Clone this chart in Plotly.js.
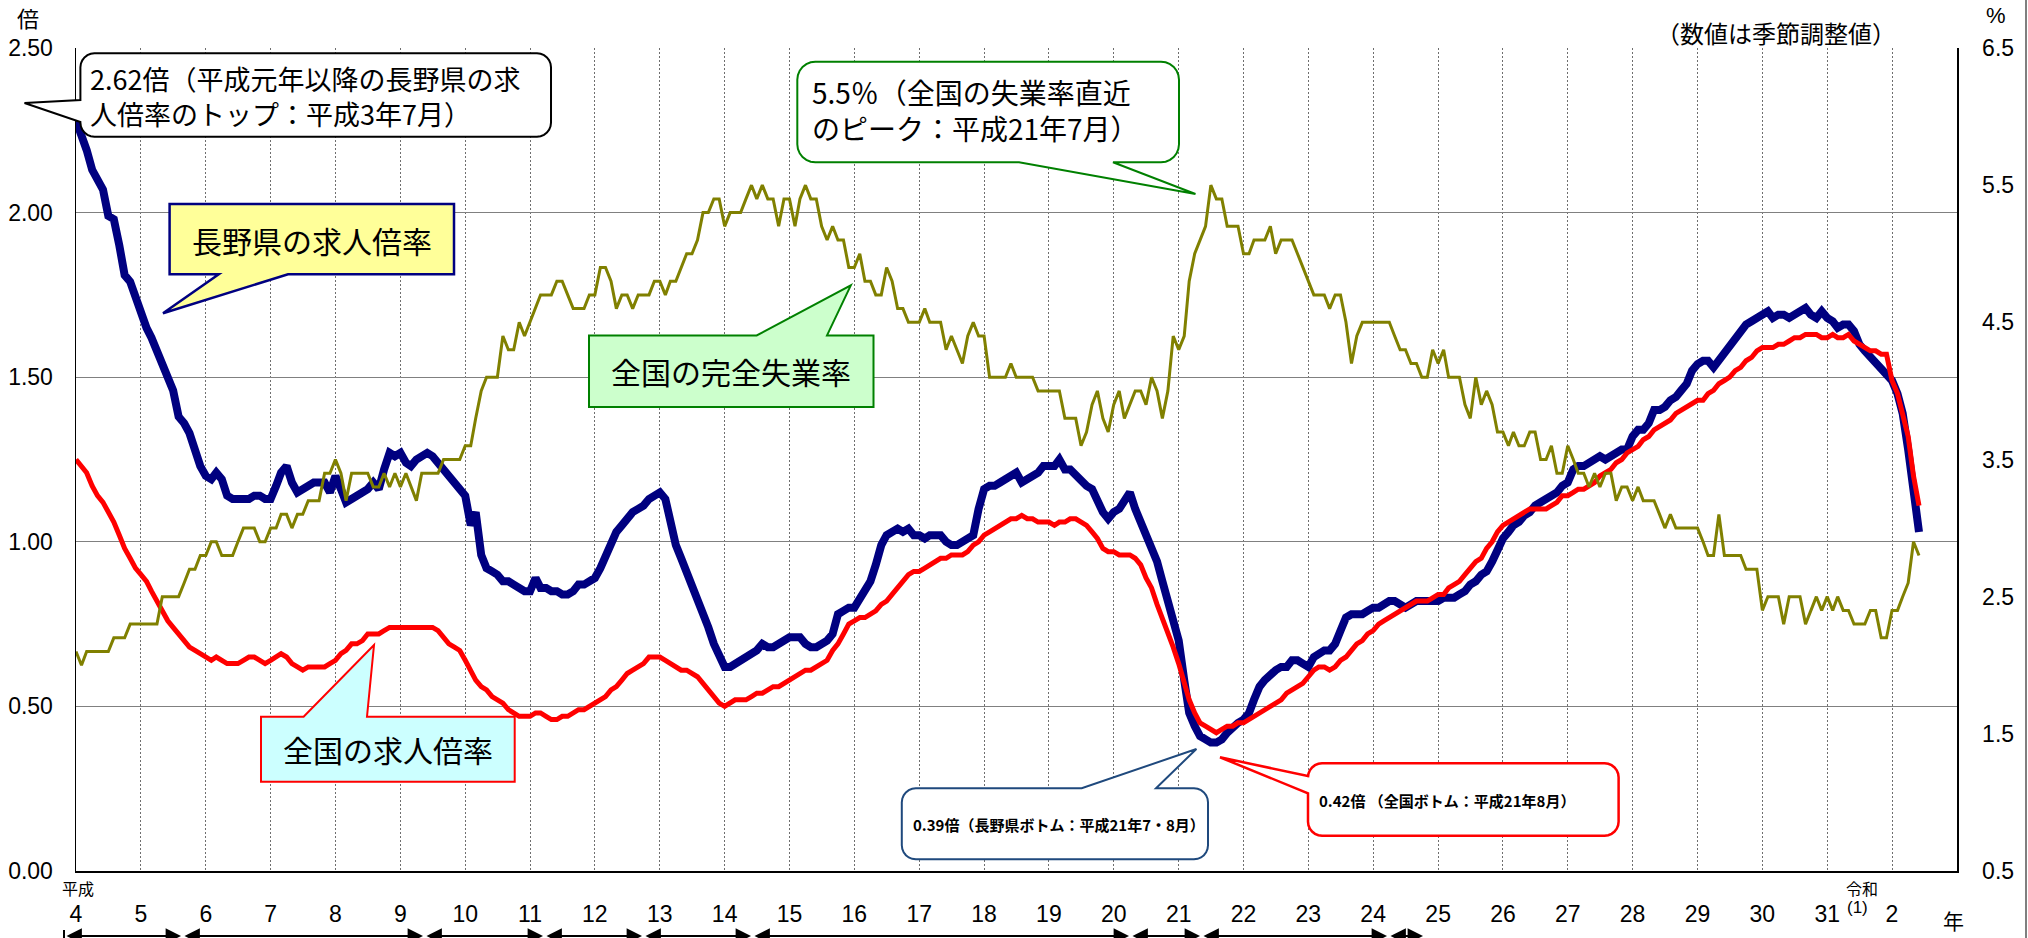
<!DOCTYPE html>
<html>
<head>
<meta charset="utf-8">
<script src="https://cdn.plot.ly/plotly-3.0.1.min.js"></script>
<style>
html,body{margin:0;padding:0;background:#fff;}
#chart{width:2028px;height:938px;}
</style>
</head>
<body>
<div id="chart"></div>
<script>
// ---- data (monthly, seasonally adjusted), Jan 1992 (H4) .. Jun 2020 (R2) ----
const firstYear = 1992;

// 長野県の有効求人倍率
const naganoRatio = [
  2.28,2.24,2.19,2.13,2.10,2.07,1.99,1.98,1.90,1.81,1.79,1.74,
  1.69,1.65,1.62,1.58,1.54,1.49,1.46,1.38,1.36,1.33,1.27,1.23,
  1.20,1.19,1.21,1.19,1.14,1.13,1.13,1.13,1.13,1.14,1.14,1.13,
  1.13,1.17,1.21,1.23,1.18,1.15,1.16,1.17,1.18,1.18,1.18,1.15,
  1.20,1.16,1.12,1.13,1.14,1.15,1.16,1.18,1.16,1.22,1.27,1.26,
  1.27,1.24,1.23,1.25,1.26,1.27,1.26,1.24,1.22,1.20,1.18,1.16,
  1.14,1.05,1.09,0.96,0.92,0.91,0.90,0.88,0.88,0.87,0.86,0.85,
  0.85,0.89,0.86,0.86,0.85,0.85,0.84,0.84,0.85,0.87,0.87,0.88,
  0.89,0.92,0.96,1.00,1.03,1.05,1.07,1.09,1.10,1.11,1.13,1.14,
  1.15,1.13,1.06,0.99,0.95,0.91,0.86,0.82,0.79,0.74,0.69,0.66,
  0.62,0.62,0.63,0.64,0.65,0.66,0.67,0.69,0.68,0.68,0.69,0.70,
  0.71,0.71,0.71,0.69,0.68,0.68,0.69,0.70,0.72,0.78,0.79,0.80,
  0.80,0.83,0.86,0.88,0.93,0.99,1.02,1.03,1.04,1.03,1.04,1.02,
  1.02,1.01,1.02,1.02,1.02,1.00,0.99,0.99,1.00,1.01,1.02,1.10,
  1.16,1.17,1.17,1.18,1.19,1.20,1.21,1.18,1.19,1.20,1.21,1.23,
  1.23,1.23,1.25,1.22,1.22,1.20,1.19,1.17,1.16,1.12,1.09,1.07,
  1.09,1.10,1.12,1.15,1.10,1.06,1.01,0.98,0.94,0.88,0.82,0.78,
  0.70,0.58,0.48,0.44,0.41,0.40,0.39,0.39,0.40,0.42,0.44,0.45,
  0.46,0.48,0.52,0.56,0.58,0.60,0.61,0.62,0.62,0.64,0.64,0.63,
  0.62,0.65,0.66,0.67,0.67,0.69,0.73,0.77,0.78,0.78,0.78,0.79,
  0.80,0.80,0.81,0.82,0.82,0.81,0.80,0.81,0.82,0.82,0.82,0.82,
  0.82,0.83,0.83,0.83,0.84,0.85,0.87,0.88,0.90,0.91,0.94,0.98,
  1.01,1.03,1.05,1.06,1.08,1.09,1.11,1.12,1.13,1.14,1.15,1.17,
  1.18,1.22,1.23,1.23,1.24,1.25,1.26,1.25,1.26,1.27,1.28,1.28,
  1.32,1.34,1.34,1.36,1.40,1.40,1.41,1.43,1.44,1.46,1.48,1.52,
  1.54,1.55,1.55,1.53,1.55,1.57,1.59,1.61,1.64,1.66,1.67,1.68,
  1.69,1.70,1.68,1.69,1.69,1.68,1.69,1.70,1.71,1.69,1.68,1.70,
  1.68,1.67,1.65,1.66,1.66,1.64,1.60,1.58,1.56,1.54,1.52,1.51,
  1.49,1.45,1.39,1.28,1.14,1.03
];

// 全国の有効求人倍率
const nationalRatio = [
  1.25,1.23,1.21,1.17,1.14,1.12,1.09,1.06,1.02,0.98,0.95,0.92,
  0.90,0.88,0.85,0.82,0.79,0.76,0.74,0.72,0.70,0.68,0.67,0.66,
  0.65,0.64,0.65,0.64,0.63,0.63,0.63,0.64,0.65,0.65,0.64,0.63,
  0.64,0.65,0.66,0.65,0.63,0.62,0.61,0.62,0.62,0.62,0.62,0.63,
  0.64,0.66,0.67,0.69,0.69,0.70,0.72,0.72,0.72,0.73,0.74,0.74,
  0.74,0.74,0.74,0.74,0.74,0.74,0.74,0.73,0.71,0.69,0.68,0.67,
  0.64,0.61,0.58,0.56,0.55,0.53,0.52,0.51,0.49,0.48,0.47,0.47,
  0.47,0.48,0.48,0.47,0.46,0.46,0.47,0.47,0.48,0.49,0.49,0.50,
  0.51,0.52,0.53,0.55,0.56,0.58,0.60,0.61,0.62,0.63,0.65,0.65,
  0.65,0.64,0.63,0.62,0.61,0.61,0.60,0.59,0.57,0.55,0.53,0.51,
  0.50,0.51,0.52,0.52,0.52,0.53,0.54,0.54,0.55,0.56,0.56,0.57,
  0.58,0.59,0.60,0.61,0.61,0.62,0.63,0.64,0.67,0.69,0.72,0.75,
  0.76,0.77,0.77,0.78,0.79,0.81,0.82,0.84,0.86,0.88,0.90,0.91,
  0.91,0.92,0.93,0.94,0.95,0.95,0.96,0.96,0.96,0.97,0.99,1.00,
  1.02,1.03,1.04,1.05,1.06,1.07,1.07,1.08,1.07,1.07,1.06,1.06,
  1.06,1.05,1.06,1.06,1.07,1.07,1.06,1.05,1.03,1.01,0.98,0.97,
  0.97,0.96,0.96,0.96,0.95,0.93,0.89,0.86,0.81,0.77,0.73,0.68,
  0.63,0.57,0.52,0.48,0.45,0.44,0.43,0.42,0.43,0.44,0.44,0.45,
  0.45,0.46,0.47,0.48,0.49,0.50,0.51,0.52,0.54,0.55,0.56,0.57,
  0.59,0.61,0.62,0.62,0.61,0.62,0.64,0.65,0.67,0.69,0.70,0.72,
  0.73,0.75,0.76,0.77,0.78,0.79,0.80,0.81,0.82,0.82,0.82,0.83,
  0.84,0.84,0.86,0.87,0.88,0.90,0.92,0.94,0.95,0.98,1.00,1.03,
  1.05,1.06,1.07,1.08,1.09,1.10,1.10,1.10,1.10,1.11,1.12,1.14,
  1.14,1.15,1.16,1.16,1.17,1.18,1.20,1.21,1.22,1.24,1.25,1.27,
  1.28,1.29,1.31,1.32,1.34,1.35,1.36,1.37,1.39,1.40,1.41,1.42,
  1.43,1.43,1.45,1.46,1.48,1.49,1.50,1.52,1.53,1.55,1.56,1.58,
  1.59,1.59,1.59,1.60,1.60,1.61,1.62,1.62,1.63,1.63,1.63,1.62,
  1.62,1.63,1.62,1.62,1.63,1.61,1.60,1.59,1.58,1.58,1.57,1.57,
  1.49,1.45,1.39,1.32,1.20,1.11
];

// 全国の完全失業率 (%)
const unemploymentRate = [
  2.1,2.0,2.1,2.1,2.1,2.1,2.1,2.2,2.2,2.2,2.3,2.3,
  2.3,2.3,2.3,2.3,2.5,2.5,2.5,2.5,2.6,2.7,2.7,2.8,
  2.8,2.9,2.9,2.8,2.8,2.8,2.9,3.0,3.0,3.0,2.9,2.9,
  3.0,3.0,3.1,3.1,3.0,3.1,3.1,3.2,3.2,3.2,3.4,3.4,
  3.5,3.4,3.2,3.4,3.4,3.4,3.4,3.3,3.3,3.4,3.3,3.4,
  3.3,3.4,3.3,3.2,3.4,3.4,3.4,3.4,3.5,3.5,3.5,3.5,
  3.6,3.6,3.8,4.0,4.1,4.1,4.1,4.4,4.3,4.3,4.5,4.4,
  4.5,4.6,4.7,4.7,4.7,4.8,4.8,4.7,4.6,4.6,4.6,4.7,
  4.7,4.9,4.9,4.8,4.6,4.7,4.7,4.6,4.7,4.7,4.7,4.8,
  4.8,4.7,4.8,4.8,4.9,5.0,5.0,5.1,5.3,5.3,5.4,5.4,
  5.2,5.3,5.3,5.3,5.4,5.5,5.4,5.5,5.4,5.4,5.2,5.4,
  5.4,5.2,5.4,5.5,5.4,5.4,5.2,5.1,5.2,5.1,5.1,4.9,
  4.9,5.0,4.8,4.8,4.7,4.7,4.9,4.8,4.6,4.6,4.5,4.5,
  4.5,4.6,4.5,4.5,4.5,4.3,4.4,4.3,4.2,4.4,4.5,4.4,
  4.4,4.1,4.1,4.1,4.1,4.2,4.1,4.1,4.1,4.1,4.0,4.0,
  4.0,4.0,4.0,3.8,3.8,3.8,3.6,3.7,3.9,4.0,3.8,3.7,
  3.9,4.0,3.8,3.9,4.0,4.0,3.9,4.1,4.0,3.8,4.0,4.4,
  4.3,4.4,4.8,5.0,5.1,5.2,5.5,5.4,5.4,5.2,5.2,5.2,
  5.0,5.0,5.1,5.1,5.1,5.2,5.0,5.1,5.1,5.1,5.0,4.9,
  4.8,4.7,4.7,4.7,4.6,4.7,4.7,4.5,4.2,4.4,4.5,4.5,
  4.5,4.5,4.5,4.5,4.4,4.3,4.3,4.2,4.2,4.1,4.1,4.3,
  4.2,4.3,4.1,4.1,4.1,3.9,3.8,4.1,3.9,4.0,3.9,3.7,
  3.7,3.6,3.7,3.6,3.6,3.7,3.7,3.5,3.5,3.6,3.4,3.4,
  3.6,3.5,3.4,3.4,3.3,3.4,3.3,3.4,3.4,3.2,3.3,3.3,
  3.2,3.3,3.2,3.2,3.2,3.1,3.0,3.1,3.0,3.0,3.0,3.0,
  3.0,2.9,2.8,2.8,3.1,2.8,2.8,2.8,2.8,2.7,2.7,2.7,
  2.4,2.5,2.5,2.5,2.3,2.5,2.5,2.5,2.3,2.4,2.5,2.4,
  2.5,2.4,2.5,2.4,2.4,2.3,2.3,2.3,2.4,2.4,2.2,2.2,
  2.4,2.4,2.5,2.6,2.9,2.8
];

// x tick labels (平成4 … 平成31/令和元, 令和2)
const yearTickLabels = ['4','5','6','7','8','9','10','11','12','13','14','15','16','17','18','19','20','21','22','23','24','25','26','27','28','29','30','31','2'];

// ---- derived ----
const months = naganoRatio.map((_, i) => {
  const y = firstYear + Math.floor(i / 12);
  const m = (i % 12) + 1;
  return y + '-' + String(m).padStart(2, '0') + '-01';
});
const yearTickVals = yearTickLabels.map((_, i) => (firstYear + i) + '-01-01');

// ---- page geometry helpers (for callout decorations only) ----
const FW = 2028, FH = 938;
const ML = 76, MR = 71, MT = 48, MB = 67;
const PW = FW - ML - MR, PH = FH - MT - MB;
const PX = px => (px - ML) / PW;
const PY = py => (MT + PH - py) / PH;

function arcPts(cx, cy, r, a0, a1) {
  const pts = [];
  if (r <= 0) { return [[cx, cy]]; }
  const n = 6;
  for (let k = 0; k <= n; k++) {
    const a = (a0 + (a1 - a0) * k / n) * Math.PI / 180;
    pts.push([cx + r * Math.cos(a), cy + r * Math.sin(a)]);
  }
  return pts;
}
// bubble: rectangle (x0,y0)-(x1,y1) with corner radius r and an optional tail
function bubble(x0, y0, x1, y1, r, side, tail) {
  let pts = [];
  pts = pts.concat(arcPts(x0 + r, y0 + r, r, 180, 270));
  if (side === 'top') pts = pts.concat(tail);
  pts = pts.concat(arcPts(x1 - r, y0 + r, r, 270, 360));
  if (side === 'right') pts = pts.concat(tail);
  pts = pts.concat(arcPts(x1 - r, y1 - r, r, 0, 90));
  if (side === 'bottom') pts = pts.concat(tail);
  pts = pts.concat(arcPts(x0 + r, y1 - r, r, 90, 180));
  if (side === 'left') pts = pts.concat(tail);
  return 'M ' + pts.map(p => PX(p[0]).toFixed(5) + ',' + PY(p[1]).toFixed(5)).join(' L ') + ' Z';
}
function bubbleShape(path, fill, color, width) {
  return {type: 'path', xref: 'paper', yref: 'paper', path: path,
          fillcolor: fill, line: {color: color, width: width}, layer: 'above'};
}

const CJK = 'Noto Sans CJK JP, Noto Sans, sans-serif';
const NUM = 'Liberation Sans, Arial, sans-serif';

const shapes = [
  // 2.62倍 callout
  bubbleShape(bubble(80.4, 53.3, 551, 136.7, 14, 'left', [[80.4, 122], [24.5, 103], [80.4, 100]]), '#ffffff', '#000000', 2),
  // 長野県の求人倍率
  bubbleShape(bubble(169.6, 204, 454, 274.3, 0, 'bottom', [[288, 274.3], [163, 313.3], [218.75, 274.3]]), '#FFFF99', '#000080', 2.5),
  // 全国の完全失業率
  bubbleShape(bubble(589, 335.4, 873.5, 407, 0, 'top', [[756.7, 335.4], [850.8, 285.4], [827, 335.4]]), '#CCFFCC', '#008000', 2),
  // 全国の求人倍率
  bubbleShape(bubble(261, 716.7, 514.7, 781.7, 0, 'top', [[303.6, 716.7], [374, 645], [367, 716.7]]), '#CCFFFF', '#FF0000', 2),
  // 5.5% callout
  bubbleShape(bubble(797.3, 61.7, 1179, 162.3, 18, 'bottom', [[1113, 162.3], [1195.5, 194], [1019, 162.3]]), '#ffffff', '#008000', 2),
  // 0.39倍 callout
  bubbleShape(bubble(901.8, 788.3, 1208, 859.3, 14, 'top', [[1081.7, 788.3], [1196.4, 749], [1156, 788.3]]), '#ffffff', '#1F497D', 2),
  // 0.42倍 callout
  bubbleShape(bubble(1308, 763.3, 1618.6, 835.7, 14, 'left', [[1308, 793.3], [1220, 757.3], [1308, 776]]), '#ffffff', '#FF0000', 2.5),
  // right frame line of the figure
  {type: 'line', xref: 'paper', yref: 'paper', x0: PX(2026), x1: PX(2026), y0: PY(0), y1: PY(938),
   line: {color: '#555555', width: 1.5}, layer: 'above'},
  // start bar of business-cycle arrows
  {type: 'line', xref: 'paper', yref: 'paper', x0: PX(64), x1: PX(64), y0: PY(930), y1: PY(942),
   line: {color: '#000000', width: 2}, layer: 'above'}
];

const annotations = [];
function txt(text, px, py, size, opts) {
  annotations.push(Object.assign({
    text: text, xref: 'paper', yref: 'paper', x: PX(px), y: PY(py),
    xanchor: 'center', yanchor: 'middle', showarrow: false,
    font: {family: CJK, size: size, color: '#000'}
  }, opts || {}));
}
txt('倍', 28, 17, 22);
txt('%', 1996, 16, 22, {font: {family: NUM, size: 22, color: '#000'}});
txt('（数値は季節調整値）', 1898, 33, 24, {xanchor: 'right'});
txt('年', 1953, 920, 21);
txt('平成', 78, 888, 16);
txt('令和', 1862, 888, 16);
txt('(1)', 1857, 908, 17, {font: {family: NUM, size: 17, color: '#000'}});
txt('2.62倍（平成元年以降の長野県の求<br>人倍率のトップ：平成3年7月）',
    88, 96, 27, {xanchor: 'left', align: 'left'});
txt('長野県の求人倍率', 312, 240, 30);
txt('全国の完全失業率', 731, 371, 30);
txt('全国の求人倍率', 388, 749, 30);
txt('5.5％（全国の失業率直近<br>のピーク：平成21年7月）',
    810, 110, 28, {xanchor: 'left', align: 'left'});
txt('<b>0.39倍（長野県ボトム：平成21年7・8月）</b>', 911, 824, 15, {xanchor: 'left'});
txt('<b>0.42倍 （全国ボトム：平成21年8月）</b>', 1317, 800, 15, {xanchor: 'left'});

// business-cycle arrows below the axis (景気の山・谷)
const cycleBounds = [64, 182, 424, 544, 643, 752, 1130, 1201, 1388, 1424];
for (let i = 0; i < cycleBounds.length - 1; i++) {
  const a = cycleBounds[i], b = cycleBounds[i + 1];
  annotations.push({
    text: '', xref: 'paper', yref: 'paper', x: PX(b - 1), y: PY(936),
    ax: -(b - a - 2), ay: 0, axref: 'pixel', ayref: 'pixel',
    showarrow: true, arrowhead: 2, startarrowhead: 2, arrowside: 'end+start',
    arrowsize: 1.4, startarrowsize: 1.4, arrowwidth: 2.2, arrowcolor: '#000'
  });
}

const traces = [
  {x: months, y: naganoRatio, type: 'scatter', mode: 'lines', name: '長野県の求人倍率',
   line: {color: '#000080', width: 8}, yaxis: 'y', hoverinfo: 'skip'},
  {x: months, y: nationalRatio, type: 'scatter', mode: 'lines', name: '全国の求人倍率',
   line: {color: '#FF0000', width: 5}, yaxis: 'y', hoverinfo: 'skip'},
  {x: months, y: unemploymentRate, type: 'scatter', mode: 'lines', name: '全国の完全失業率',
   line: {color: '#808000', width: 3}, yaxis: 'y2', hoverinfo: 'skip'}
];

const layout = {
  width: FW, height: FH,
  margin: {l: ML, r: MR, t: MT, b: MB, pad: 0},
  paper_bgcolor: '#ffffff', plot_bgcolor: '#ffffff',
  showlegend: false,
  font: {family: CJK, color: '#000'},
  xaxis: {
    type: 'date', range: ['1992-01-01', '2021-01-01'],
    tickmode: 'array', tickvals: yearTickVals, ticktext: yearTickLabels,
    ticks: 'outside', ticklen: 22, tickcolor: 'rgba(0,0,0,0)',
    tickfont: {family: NUM, size: 23, color: '#000'},
    showgrid: true, gridcolor: '#6e6e6e', gridwidth: 1, griddash: '2px,2px',
    showline: true, linecolor: '#000', linewidth: 1.5,
    zeroline: false, fixedrange: true
  },
  yaxis: {
    range: [0, 2.5], tickmode: 'array', tickvals: [0, 0.5, 1, 1.5, 2, 2.5],
    tickformat: '.2f',
    ticks: 'outside', ticklen: 17, tickcolor: 'rgba(0,0,0,0)',
    tickfont: {family: NUM, size: 23, color: '#000'},
    showgrid: true, gridcolor: '#808080', gridwidth: 1.2,
    showline: true, linecolor: '#000', linewidth: 1.5,
    zeroline: false, fixedrange: true
  },
  yaxis2: {
    overlaying: 'y', side: 'right', range: [0.5, 6.5],
    tickmode: 'array', tickvals: [0.5, 1.5, 2.5, 3.5, 4.5, 5.5, 6.5], tickformat: '.1f',
    ticks: 'outside', ticklen: 19, tickcolor: 'rgba(0,0,0,0)',
    tickfont: {family: NUM, size: 23, color: '#000'},
    showgrid: false, showline: true, linecolor: '#000', linewidth: 1.5,
    zeroline: false, fixedrange: true
  },
  shapes: shapes,
  annotations: annotations
};

Plotly.newPlot('chart', traces, layout, {displayModeBar: false, staticPlot: true});
</script>
</body>
</html>
